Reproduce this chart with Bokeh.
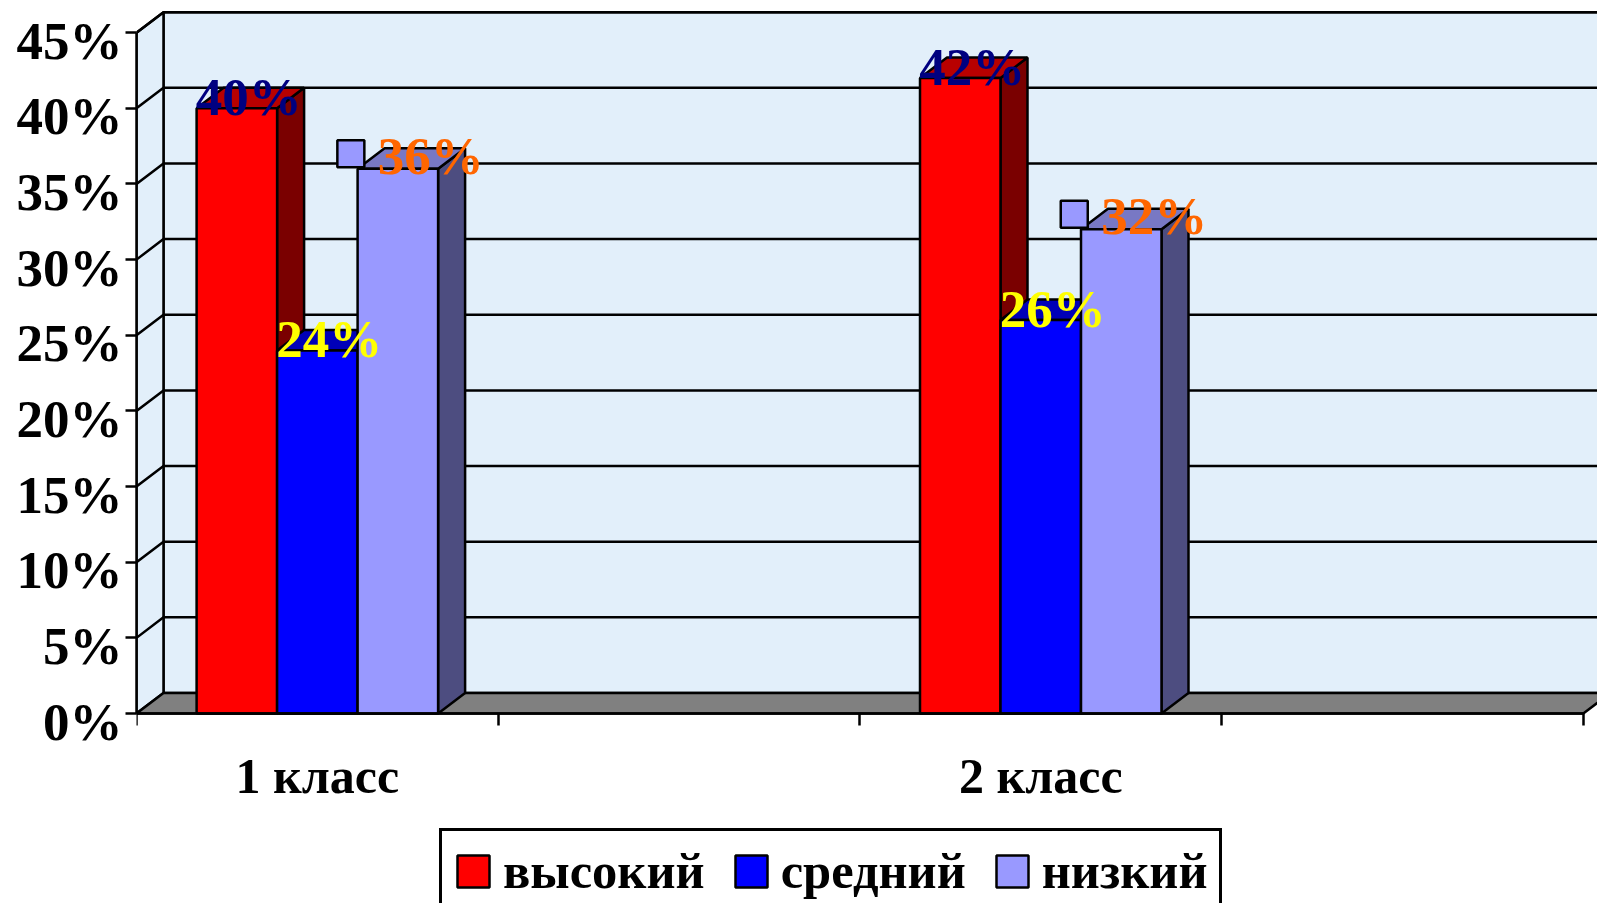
from bokeh.plotting import figure
from bokeh.embed import file_html
from bokeh.resources import INLINE
from bokeh.models import Range1d, LinearAxis, FixedTicker, Legend, LegendItem
from bokeh.core.properties import value

categories = ["1 класс", "", "2 класс", ""]
y_ticks = [0, 5, 10, 15, 20, 25, 30, 35, 40, 45]
series_names = ["высокий", "средний", "низкий"]
high = [40, 42]
mid = [24, 26]
low = [36, 32]

FONT = "Liberation Serif"
W, H = 1597, 903
AX_L, AX_B = 136, 713   # pixel position of the axes' origin
PX_X = 361.7      # pixels per category
PX_Y = 15.13      # pixels per percent
DX = 27 / PX_X    # 3D depth along x
DY = 20.5 / PX_Y  # 3D depth along y
BAR_W = 80.5 / PX_X
WALL = "#E2EFFA"
FLOOR = "#808080"
LW = 2.5

p = figure(width=W, height=H, output_backend="svg", toolbar_location=None,
           x_range=Range1d(0, (W - AX_L) / PX_X),
           y_range=Range1d(-(H - AX_B) / PX_Y, AX_B / PX_Y),
           x_axis_type=None, y_axis_type=None,
           min_border_left=AX_L, min_border_right=0, min_border_top=0, min_border_bottom=0)
p.grid.visible = False
p.outline_line_color = None
p.background_fill_color = "white"
p.border_fill_color = "white"

n_cat = len(categories)
n_top = y_ticks[-1]

# walls
p.patch([DX, n_cat + DX, n_cat + DX, DX], [DY, DY, n_top + DY, n_top + DY],
        fill_color=WALL, line_color="black", line_width=LW)
p.patch([0, DX, DX, 0], [0, DY, n_top + DY, n_top],
        fill_color=WALL, line_color="black", line_width=LW)
# floor
p.patch([0, n_cat, n_cat + DX, DX], [0, 0, DY, DY],
        fill_color=FLOOR, line_color="black", line_width=LW)
# gridlines
for t in y_ticks[1:]:
    p.line([0, DX, n_cat + DX], [t, t + DY, t + DY], line_color="black", line_width=LW)

centers = [i + 0.5 for i, c in enumerate(categories) if c]
styles = [
    (high, -1, "#FF0000", "#B80000", "#7A0000"),
    (mid, 0, "#0000FF", "#0000B8", "#00007A"),
    (low, 1, "#9999FF", "#7878C4", "#4D4D80"),
]
renderers = []
for vals, pos, front, top, side in styles:
    xl = [c + pos * BAR_W - BAR_W / 2 for c in centers]
    xr = [x + BAR_W for x in xl]
    p.patches([[r, r + DX, r + DX, r] for r in xr],
              [[0, DY, v + DY, v] for v in vals],
              fill_color=side, line_color="black", line_width=LW)
    p.patches([[l, r, r + DX, l + DX] for l, r in zip(xl, xr)],
              [[v, v, v + DY, v + DY] for v in vals],
              fill_color=top, line_color="black", line_width=LW)
    renderers.append(p.vbar(x=[(l + r) / 2 for l, r in zip(xl, xr)], top=vals, width=BAR_W,
                            fill_color=front, line_color="black", line_width=LW))

# data labels
label_styles = [
    (high, -1, "#000080", 12, 11),
    (mid, 0, "#FFFF00", 12, 11),
    (low, 1, "#FF6600", 33, 13),
]
for vals, pos, col, xo, yo in label_styles:
    p.text(x=[c + pos * BAR_W for c in centers], y=vals, text=[f"{v}%" for v in vals],
           x_offset=xo, y_offset=-yo, text_color=col, text_font=value(FONT),
           text_font_size="53px", text_font_style="bold", text_align="center",
           text_baseline="middle")
# legend keys shown beside the third series' labels
p.rect(x=[c + BAR_W - 47 / PX_X for c in centers], y=[v + 15 / PX_Y for v in low],
       width=27, height=27, width_units="screen", height_units="screen",
       fill_color="#9999FF", line_color="black", line_width=LW)

# y axis: ticks and line
ax_y = LinearAxis(ticker=FixedTicker(ticks=y_ticks), bounds=(0, n_top),
                  major_label_overrides={t: "" for t in y_ticks},
                  major_tick_out=11, major_tick_in=0, minor_tick_line_color=None,
                  major_tick_line_width=LW, axis_line_width=LW, major_label_standoff=0,
                  major_label_text_font_size="1px")
p.add_layout(ax_y, "left")
# tick labels sit a little below their ticks in the reference
SHIFT = 8 / PX_Y
p.extra_y_ranges["labels"] = Range1d(p.y_range.start + SHIFT, p.y_range.end + SHIFT)
ax_yl = LinearAxis(y_range_name="labels", ticker=FixedTicker(ticks=y_ticks),
                   major_label_overrides={t: f"{t}%" for t in y_ticks},
                   axis_line_color=None, major_tick_line_color=None, minor_tick_line_color=None,
                   major_label_standoff=-3, major_label_text_font=FONT,
                   major_label_text_font_size="53px", major_label_text_font_style="bold",
                   major_label_text_color="black")
p.add_layout(ax_yl, "left")

# x axis pinned at y = 0, because the frame runs on down to the legend
x_ticks = list(range(n_cat + 1))
ax_x = LinearAxis(ticker=FixedTicker(ticks=x_ticks), bounds=(0, n_cat), fixed_location=0,
                  major_label_overrides={t: "" for t in x_ticks},
                  major_tick_out=12, major_tick_in=0, minor_tick_line_color=None,
                  major_tick_line_width=LW, axis_line_width=LW, major_label_standoff=0,
                  major_label_text_font_size="1px")
p.add_layout(ax_x, "below")
ax_xl = LinearAxis(ticker=FixedTicker(ticks=centers), fixed_location=0,
                   major_label_overrides={c: categories[int(c)] for c in centers},
                   axis_line_color=None, major_tick_line_color=None, minor_tick_line_color=None,
                   major_label_standoff=28, major_label_text_font=FONT,
                   major_label_text_font_size="50px", major_label_text_font_style="bold",
                   major_label_text_color="black")
p.add_layout(ax_xl, "below")

legend = Legend(items=[LegendItem(label=n, renderers=[r]) for n, r in zip(series_names, renderers)],
                orientation="horizontal", location=(303, -11),
                label_text_font=FONT, label_text_font_size="50.5px", label_text_font_style="bold",
                label_text_color="black", glyph_width=40, glyph_height=40, label_standoff=10,
                label_height=56, spacing=26, padding=11, margin=0,
                border_line_color="black", border_line_width=3, border_line_alpha=1.0,
                background_fill_color="white", background_fill_alpha=1.0)
p.add_layout(legend, "center")

open("out.html", "w").write(file_html(p, INLINE))
